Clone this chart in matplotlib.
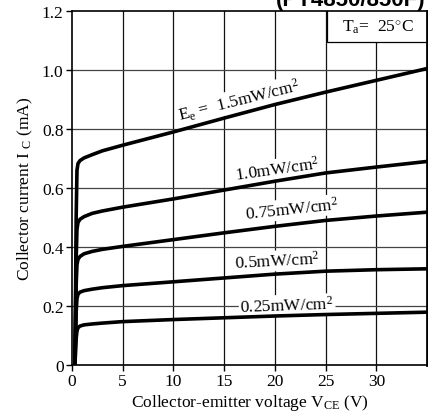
import numpy as np
import matplotlib
matplotlib.use("Agg")
import matplotlib.pyplot as plt
from matplotlib.patches import Rectangle

plt.rcParams["font.family"] = ["Liberation Serif", "DejaVu Serif"]
plt.rcParams["mathtext.fontset"] = "custom"
plt.rcParams["mathtext.rm"] = "Liberation Serif"
plt.rcParams["mathtext.it"] = "Liberation Serif"

# -----------------------
# Data
# -----------------------
vce = [0.3, 0.42, 0.5, 0.6, 0.8, 1.2, 2, 3, 5, 10, 15, 20, 25, 30, 35]

ic_150 = [0.0, 0.50, 0.66, 0.683, 0.693, 0.702, 0.713, 0.726, 0.745, 0.79, 0.837, 0.883, 0.925, 0.965, 1.005]
ic_100 = [0.0, 0.36, 0.46, 0.483, 0.494, 0.503, 0.514, 0.522, 0.535, 0.563, 0.593, 0.623, 0.651, 0.671, 0.69]
ic_075 = [0.0, 0.27, 0.34, 0.358, 0.368, 0.377, 0.385, 0.392, 0.402, 0.425, 0.448, 0.47, 0.49, 0.505, 0.518]
ic_050 = [0.0, 0.18, 0.225, 0.24, 0.247, 0.252, 0.257, 0.262, 0.269, 0.282, 0.295, 0.308, 0.318, 0.323, 0.326]
ic_025 = [0.0, 0.09, 0.115, 0.126, 0.132, 0.136, 0.139, 0.142, 0.147, 0.154, 0.16, 0.166, 0.171, 0.175, 0.179]

curves = [ic_150, ic_100, ic_075, ic_050, ic_025]
labels = [r"E$_{\rm e}$ =  1.5mW/cm$^2$", r"1.0mW/cm$^2$", r"0.75mW/cm$^2$",
          r"0.5mW/cm$^2$", r"0.25mW/cm$^2$"]
label_pos = [(16.5, 0.897, 14), (20.2, 0.664, 8), (21.7, 0.529, 6),
             (20.2, 0.353, 3), (21.2, 0.203, 2)]

x_ticks = [0, 5, 10, 15, 20, 25, 30]
y_ticks = [0, 0.2, 0.4, 0.6, 0.8, 1.0, 1.2]
y_ticklabels = ["0", "0.2", "0.4", "0.6", "0.8", "1.0", "1.2"]

# -----------------------
# Plot
# -----------------------
fig = plt.figure(figsize=(4.28, 4.14), dpi=100)
ax = fig.add_axes([0.168, 0.116, 0.830, 0.855])

for v in x_ticks[1:]:
    ymax = 1.095 if v == 30 else 1.2
    ax.plot([v, v], [0, ymax], color="#111111", lw=0.9, zorder=1)
for y in y_ticks[1:-1]:
    ax.axhline(y, color="#444444", lw=0.9, zorder=1)

for ic in curves:
    ax.plot(vce, ic, color="black", lw=2.6, solid_capstyle="round",
            solid_joinstyle="round", zorder=3)

for (x, y, rot), lab in zip(label_pos, labels):
    ax.text(x, y, lab, fontsize=12.5, ha="center", va="center", rotation=rot,
            rotation_mode="anchor", zorder=2,
            bbox=dict(facecolor="white", edgecolor="none", pad=1.0))

ax.add_patch(Rectangle((25.1, 1.095), 10, 0.2, facecolor="white",
                       edgecolor="black", lw=0.9, zorder=2))
ax.text(30.1, 1.15, r"T$_{\rm a}$=  25$^{\circ}$C", fontsize=12.5,
        ha="center", va="center", zorder=3)

ax.set_xlim(0, 35)
ax.set_ylim(0, 1.2)
ax.set_xticks(x_ticks)
ax.set_yticks(y_ticks)
ax.set_yticklabels(y_ticklabels)
ax.tick_params(labelsize=12.5, direction="out", length=4, width=1, pad=2)
for s in ax.spines.values():
    s.set_linewidth(1.2)
ax.spines["right"].set_linewidth(2)

ax.set_xlabel(r"Collector-emitter voltage V$_{\rm CE}$ (V)", fontsize=12.5, labelpad=2)
ax.set_ylabel(r"Collector current I $_{\rm C}$ (mA)", fontsize=12.5, labelpad=5)

fig.text(0.995, 0.973, "(PT4850/850F)", fontsize=16, fontweight="bold",
         family="Liberation Sans", ha="right", va="bottom")

fig.savefig("out.png", dpi=100)
